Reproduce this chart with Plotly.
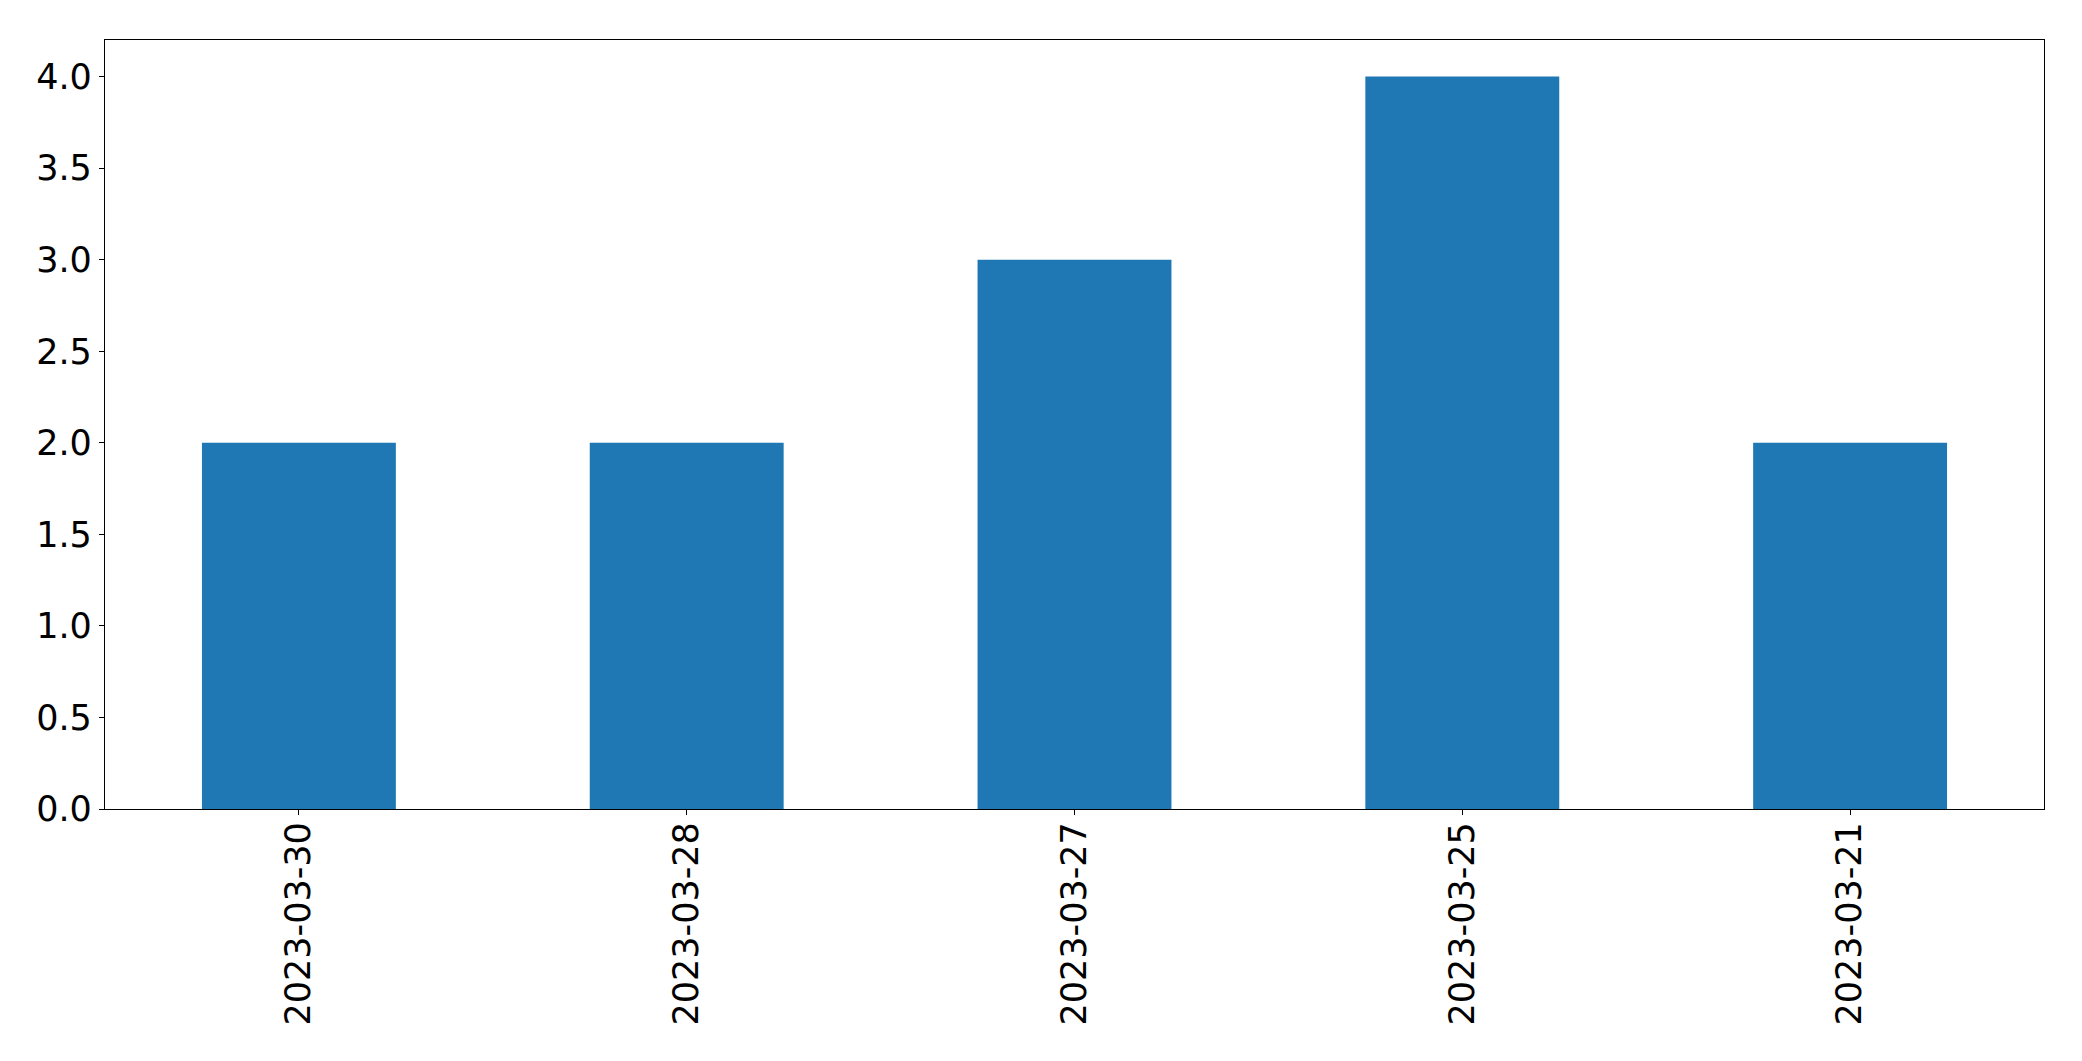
import plotly.graph_objects as go

dates = ["2023-03-30", "2023-03-28", "2023-03-27", "2023-03-25", "2023-03-21"]
counts = [2, 2, 3, 4, 2]
y_ticks = [0.0, 0.5, 1.0, 1.5, 2.0, 2.5, 3.0, 3.5, 4.0]
y_tick_labels = ["0.0", "0.5", "1.0", "1.5", "2.0", "2.5", "3.0", "3.5", "4.0"]

fig = go.Figure(go.Bar(x=dates, y=counts, width=0.5, marker=dict(color="#1f77b4", line=dict(width=0))))

axis_common = dict(showline=True, linecolor="black", linewidth=1.3, mirror=True,
                   ticks="outside", ticklen=5, tickwidth=1.3, tickcolor="black",
                   showgrid=False, zeroline=False,
                   tickfont=dict(family="DejaVu Sans", size=35, color="black"))

fig.update_xaxes(type="category", range=[-0.5, 4.5], tickangle=-90, ticklabelstandoff=-7, **axis_common)
fig.update_yaxes(range=[0, 4.2], tickvals=y_ticks, ticktext=y_tick_labels, ticklabelstandoff=0, **axis_common)

fig.update_layout(width=2082, height=1061, margin=dict(l=105, r=38, t=40, b=252, autoexpand=False),
                  plot_bgcolor="white", paper_bgcolor="white", showlegend=False,
                  font=dict(family="DejaVu Sans"))

fig.write_html("out.html", config={"displayModeBar": False},
               post_script="document.body.style.margin='0';")
